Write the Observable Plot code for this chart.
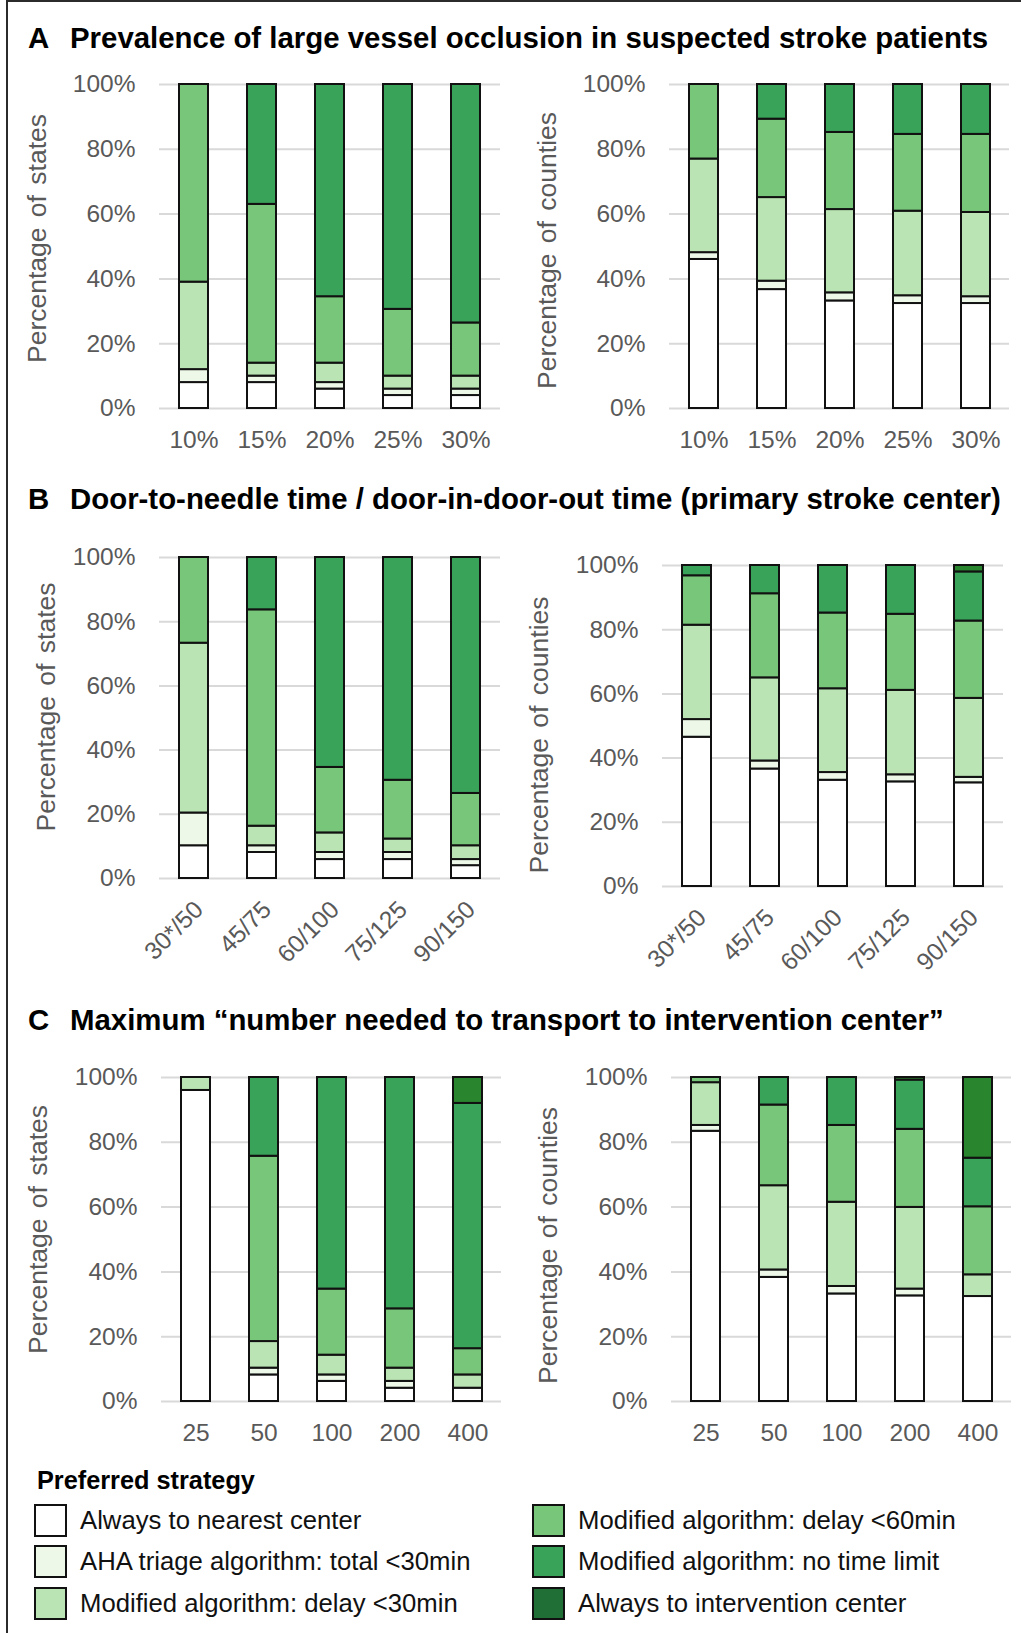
<!DOCTYPE html>
<html><head><meta charset="utf-8">
<script src="https://cdn.jsdelivr.net/npm/d3@7"></script>
<script src="https://cdn.jsdelivr.net/npm/@observablehq/plot@0.6"></script>
<style>
body{margin:0;background:#fff;}
#root{position:relative;width:1021px;height:1633px;overflow:hidden;font-family:"Liberation Sans",Arial,sans-serif;background:#fff;}
.frame{position:absolute;left:6px;top:0;width:1100px;height:1700px;border-left:2px solid #2b2b2b;border-top:2px solid #2b2b2b;}
.title{position:absolute;font-weight:bold;font-size:29.4px;line-height:29px;color:#000;white-space:nowrap;}
.panel{position:absolute;}
.panel text.ytitle{word-spacing:3px;}
.lgtitle{position:absolute;left:37px;font-weight:bold;font-size:25.3px;line-height:25px;color:#000;white-space:nowrap;}
.lgitem{position:absolute;display:flex;align-items:center;height:33px;font-size:25.7px;color:#111;white-space:nowrap;}
.sw{width:29px;height:29px;border:2px solid #111;margin-right:13px;flex:none;}
</style>
</head><body>
<div id="root"><div class="frame"></div></div>
<script>
// ---- data ----
const strategies = ["Always to nearest center", "AHA triage algorithm: total <30min", "Modified algorithm: delay <30min", "Modified algorithm: delay <60min", "Modified algorithm: no time limit", "Always to intervention center"];
const colors = ["#ffffff", "#edf8e9", "#bae4b3", "#78c679", "#3aa35a", "#2a862e"];
const yTicks = [0, 20, 40, 60, 80, 100];

const catsA = ["10%", "15%", "20%", "25%", "30%"];
const catsB = ["30*/50", "45/75", "60/100", "75/125", "90/150"];
const catsC = ["25", "50", "100", "200", "400"];

// segment values (%), stacked bottom to top in strategy order
const statesA = [[8,4,27,61,0,0],[8,2,4,49,37,0],[6,2,6,20.5,65.5,0],[4,2,4,20.6,69.4,0],[4,2,4,16.4,73.6,0]];
const countiesA = [[46,2.1,28.9,23,0,0],[36.7,2.6,25.8,24.2,10.7,0],[33.2,2.5,25.7,23.8,14.8,0],[32.4,2.4,26.1,23.7,15.4,0],[32.4,2.1,26.0,24.1,15.4,0]];
const statesB = [[10.2,10.2,52.9,26.7,0,0],[8.1,2.1,6.1,67.4,16.3,0],[5.9,2.2,6.1,20.4,65.4,0],[5.9,2.2,4.2,18.3,69.4,0],[4.0,1.9,4.3,16.3,73.5,0]];
const countiesB = [[46.5,5.5,29.4,15.4,3.2,0],[36.6,2.5,25.9,26.2,8.8,0],[33.1,2.4,26.1,23.6,14.8,0],[32.6,2.2,26.3,23.7,15.2,0],[32.3,1.7,24.6,24.1,15.3,2.0]];
const statesC = [[96,0,4,0,0,0],[8.2,2.1,8.2,57.2,24.3,0],[6.2,2.0,6.1,20.4,65.3,0],[4.1,2.1,4.1,18.3,71.4,0],[4.1,0,4.1,8.1,75.7,8.0]];
const countiesC = [[83.4,1.8,13.2,1.6,0,0],[38.3,2.3,26.0,24.9,8.5,0],[33.2,2.3,26.0,23.7,14.8,0],[32.6,2.1,25.2,24.1,15.2,0.8],[32.4,0,6.7,21.0,15.0,24.9]];

const sectionTitles = [
  ["A", "Prevalence of large vessel occlusion in suspected stroke patients"],
  ["B", "Door-to-needle time / door-in-door-out time (primary stroke center)"],
  ["C", "Maximum \u201cnumber needed to transport to intervention center\u201d"]
];
const legendTitle = "Preferred strategy";
const yLabelStates = "Percentage of states";
const yLabelCounties = "Percentage of counties";

// ---- layout ----
const root = document.getElementById("root");
const FONT = '"Liberation Sans", Arial, sans-serif';
const GRAY = "#595959";

const titleBaselines = [47, 508, 1029];
sectionTitles.forEach(([letter, text], i) => {
  const top = titleBaselines[i] - 24.5;
  const a = document.createElement("div");
  a.className = "title"; a.style.left = "28px"; a.style.top = top + "px"; a.textContent = letter;
  const b = document.createElement("div");
  b.className = "title"; b.style.left = "70px"; b.style.top = top + "px"; b.textContent = text;
  root.append(a, b);
});

function panel(cats, rows, cfg) {
  const data = [];
  cats.forEach((c, i) => rows[i].forEach((v, j) => { if (v > 0) data.push({cat: c, strategy: strategies[j], value: v}); }));
  const MT = 20, MB = cfg.rot ? 110 : 50;
  const frameH = cfg.fy1 - cfg.fy0;
  const W = cfg.cw;
  const ML = cfg.fx0 - cfg.cl, MR = cfg.cl + W - cfg.fx1;
  const marks = [
    Plot.ruleY(yTicks, {stroke: "#d9d9d9", strokeWidth: 2}),
    Plot.barY(data, {x: "cat", y: "value", fill: "strategy", stroke: "#111", strokeWidth: 2}),
    Plot.axisY({ticks: yTicks, tickFormat: d => d + "%", tickSize: 0, tickPadding: 24, fontSize: 24.5, color: GRAY, label: null}),
    Plot.text([cfg.ylabel], {text: d => d, frameAnchor: "left", rotate: -90, dx: cfg.tdx, dy: cfg.tdy, fontSize: 26.5, fill: GRAY, textAnchor: "middle", lineAnchor: "middle", className: "ytitle"})
  ];
  if (cfg.rot) {
    marks.push(Plot.text(cats, {x: d => d, text: d => d, frameAnchor: "bottom", rotate: -45, textAnchor: "end", lineAnchor: "middle", dy: 27, dx: 5, fontSize: 24.5, fill: GRAY}));
  } else {
    marks.push(Plot.axisX({tickSize: 0, tickPadding: 22, fontSize: 24.5, color: GRAY, label: null}));
  }
  const p = Plot.plot({
    width: W, height: MT + frameH + MB,
    marginTop: MT, marginBottom: MB, marginLeft: ML, marginRight: MR,
    style: {fontFamily: FONT, background: "transparent", overflow: "visible"},
    x: {domain: cats, paddingInner: 0.58, paddingOuter: 0.29, axis: null},
    y: {domain: [0, 100], axis: null},
    color: {domain: strategies, range: colors},
    marks
  });
  p.querySelectorAll("g[aria-label='text'] text").forEach(t => {
    if (t.textContent === cfg.ylabel) t.classList.add("ytitle");
  });
  const d = document.createElement("div");
  d.className = "panel";
  d.style.left = cfg.cl + "px";
  d.style.top = (cfg.fy0 - MT) + "px";
  d.append(p);
  root.append(d);
}

panel(catsA, statesA,   {cl: 0,   cw: 510, fx0: 159, fx1: 500,  fy0: 84,   fy1: 408,  ylabel: yLabelStates,   tdx: -122, tdy: -8});
panel(catsA, countiesA, {cl: 510, cw: 511, fx0: 669, fx1: 1009, fy0: 84,   fy1: 408,  ylabel: yLabelCounties, tdx: -122, tdy: 4});
panel(catsB, statesB,   {cl: 0,   cw: 510, fx0: 159, fx1: 500,  fy0: 557,  fy1: 878,  ylabel: yLabelStates,   tdx: -113, tdy: -11, rot: true});
panel(catsB, countiesB, {cl: 510, cw: 511, fx0: 662, fx1: 1003, fy0: 565,  fy1: 886,  ylabel: yLabelCounties, tdx: -123, tdy: 9, rot: true});
panel(catsC, statesC,   {cl: 0,   cw: 510, fx0: 161, fx1: 501,  fy0: 1077, fy1: 1401, ylabel: yLabelStates,   tdx: -123, tdy: -10});
panel(catsC, countiesC, {cl: 510, cw: 511, fx0: 671, fx1: 1011, fy0: 1077, fy1: 1401, ylabel: yLabelCounties, tdx: -123, tdy: 6});

// ---- legend ----
const lt = document.createElement("div");
lt.className = "lgtitle"; lt.style.top = (1489 - 21) + "px"; lt.textContent = legendTitle;
root.append(lt);
const rowCenters = [1520, 1561, 1603];
strategies.forEach((s, i) => {
  const col = Math.floor(i / 3), row = i % 3;
  const it = document.createElement("div");
  it.className = "lgitem";
  it.style.left = (col === 0 ? 34 : 532) + "px";
  it.style.top = (rowCenters[row] - 16.5) + "px";
  const sw = document.createElement("div");
  sw.className = "sw"; sw.style.background = i === 5 ? "#1f6f36" : colors[i];
  const tx = document.createElement("span");
  tx.textContent = s;
  it.append(sw, tx);
  root.append(it);
});
</script>
</body></html>
